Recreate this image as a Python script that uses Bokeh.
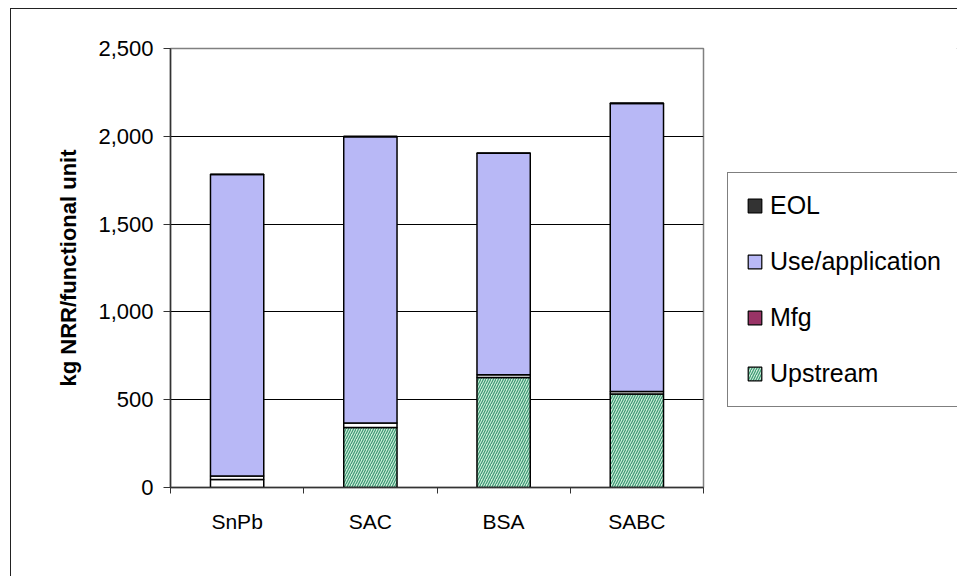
import numpy as np
from bokeh.plotting import figure
from bokeh.layouts import row
from bokeh.models import (ColumnDataSource, Range1d, FixedTicker, NumeralTickFormatter,
                          Legend, LegendItem)
from bokeh.embed import file_html
from bokeh.resources import INLINE

# Non-renewable resource use per life-cycle stage (kg NRR / functional unit)
categories = ["SnPb", "SAC", "BSA", "SABC"]
upstream = [46, 342, 626, 532]
mfg = [20, 25, 16, 14]
use_application = [1716, 1631, 1261, 1641]
eol = [2, 2, 2, 2]
y_ticks = [0, 500, 1000, 1500, 2000, 2500]

FONT = "Liberation Sans"
USE_COLOR = "#b8b8f6"
UP_FILL = "#cdebdc"
UP_HATCH = "#3a9a70"
MFG_COLOR = "#993366"
EOL_COLOR = "#333333"

layers = np.array([upstream, mfg, use_application, eol], dtype=float)
tops = np.cumsum(layers, axis=0)
bottoms = tops - layers
xpos = np.arange(len(categories)) + 0.5

src = ColumnDataSource(dict(
    x=xpos,
    up_b=bottoms[0], up_t=tops[0],
    mf_b=bottoms[1], mf_t=tops[1],
    us_b=bottoms[2], us_t=tops[2],
    eo_b=bottoms[3], eo_t=tops[3],
    # the SnPb upstream block is shown unfilled
    up_fill=["#ffffff"] + [UP_FILL] * (len(categories) - 1),
    up_hatch=["#ffffff"] + [UP_HATCH] * (len(categories) - 1),
))

H = 567
p = figure(width=716, height=H, output_backend="svg", toolbar_location=None,
           x_range=Range1d(0, len(categories)), y_range=Range1d(0, 2500),
           min_border_left=159, min_border_right=24, min_border_top=39,
           min_border_bottom=89)
p.background_fill_color = "white"
p.border_fill_color = "white"
p.outline_line_color = "#808080"
p.outline_line_width = 1.5

BW = 0.4
LINE = dict(line_color="black", line_width=1.5)

p.vbar(x="x", bottom="up_b", top="up_t", width=BW, source=src,
       fill_color="up_fill", hatch_pattern="/", hatch_color="up_hatch",
       hatch_scale=5, hatch_weight=1.2, **LINE)
p.vbar(x="x", bottom="mf_b", top="mf_t", width=BW, source=src,
       fill_color="white", **LINE)
p.vbar(x="x", bottom="us_b", top="us_t", width=BW, source=src,
       fill_color=USE_COLOR, **LINE)
p.vbar(x="x", bottom="eo_b", top="eo_t", width=BW, source=src,
       fill_color=EOL_COLOR, **LINE)

# y axis
p.yaxis.ticker = FixedTicker(ticks=y_ticks)
p.yaxis.formatter = NumeralTickFormatter(format="0,0")
p.yaxis.axis_label = "kg NRR/functional unit"
p.yaxis.axis_label_text_font = FONT
p.yaxis.axis_label_text_font_size = "22px"
p.yaxis.axis_label_text_font_style = "bold"
p.yaxis.axis_label_text_color = "black"
p.yaxis.axis_label_standoff = 14
p.yaxis.major_label_text_font = FONT
p.yaxis.major_label_text_font_size = "22px"
p.yaxis.major_label_text_color = "black"
p.yaxis.major_label_standoff = 10
p.yaxis.major_tick_out = 7
p.yaxis.major_tick_in = 0
p.yaxis.minor_tick_line_color = None
p.yaxis.axis_line_color = "#333333"
p.yaxis.axis_line_width = 1.5
p.yaxis.major_tick_line_color = "#333333"

# x axis: labels at bar centres, ticks at category boundaries
p.xaxis.ticker = FixedTicker(ticks=list(xpos),
                             minor_ticks=list(range(len(categories) + 1)))
p.xaxis.major_label_overrides = {float(x): c for x, c in zip(xpos, categories)}
p.xaxis.major_label_text_font = FONT
p.xaxis.major_label_text_font_size = "21px"
p.xaxis.major_label_text_color = "black"
p.xaxis.major_label_standoff = 16
p.xaxis.major_tick_line_color = None
p.xaxis.minor_tick_out = 6
p.xaxis.minor_tick_in = 0
p.xaxis.minor_tick_line_color = "#333333"
p.xaxis.axis_line_color = "#333333"
p.xaxis.axis_line_width = 1.5

p.xgrid.visible = False
p.ygrid.ticker = FixedTicker(ticks=[500, 1000, 1500, 2000])
p.ygrid.grid_line_color = "black"
p.ygrid.grid_line_width = 1

# legend panel to the right of the plot area
q = figure(width=230, height=H, output_backend="svg", toolbar_location=None,
           x_range=Range1d(0, 1), y_range=Range1d(0, 1),
           x_axis_type=None, y_axis_type=None,
           min_border=0, min_border_left=0, min_border_right=0,
           min_border_top=0, min_border_bottom=0)
q.outline_line_color = None
q.background_fill_color = "white"
q.border_fill_color = "white"
q.grid.visible = False

# swatch carriers, placed far outside the legend panel's ranges
off = dict(x=[50], bottom=[50], top=[51], width=0.1, line_color="black", line_width=1.2)
leg_eol = q.vbar(fill_color=EOL_COLOR, **off)
leg_use = q.vbar(fill_color=USE_COLOR, **off)
leg_mfg = q.vbar(fill_color=MFG_COLOR, **off)
leg_up = q.vbar(fill_color=UP_FILL, hatch_pattern="/", hatch_color=UP_HATCH,
                hatch_scale=5, hatch_weight=1.2, **off)

legend = Legend(items=[
    LegendItem(label="EOL", renderers=[leg_eol]),
    LegendItem(label="Use/application", renderers=[leg_use]),
    LegendItem(label="Mfg", renderers=[leg_mfg]),
    LegendItem(label="Upstream", renderers=[leg_up]),
], location=(0, 80))
legend.label_text_font = FONT
legend.label_text_font_size = "25px"
legend.label_text_color = "black"
legend.label_height = 24
legend.label_width = 160
legend.label_standoff = 7
legend.glyph_width = 17
legend.glyph_height = 17
legend.spacing = 27
legend.padding = 18
legend.margin = 0
legend.border_line_color = "black"
legend.border_line_width = 1
legend.background_fill_color = "white"
legend.background_fill_alpha = 1
q.add_layout(legend, "center")

chart = row(p, q, spacing=0)
chart.styles = {"margin-left": "10px", "margin-top": "8px",
                "border-left": "1.5px solid #222", "border-top": "1.5px solid #222"}

open("out.html", "w").write(file_html(chart, INLINE))
